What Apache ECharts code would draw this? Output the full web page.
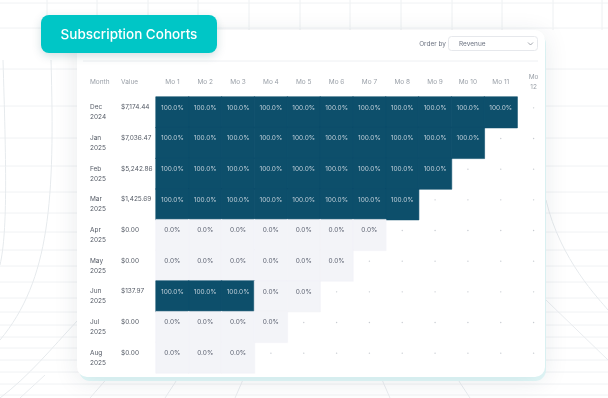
<!DOCTYPE html>
<html>
<head>
<meta charset="utf-8">
<script src="https://cdn.jsdelivr.net/npm/echarts@6/dist/echarts.min.js"></script>
<style>
  html, body { margin: 0; padding: 0; background: #ffffff; }
  #chart { width: 608px; height: 398px; }
</style>
</head>
<body>
<div id="chart"></div>
<script>
// cohort table data
var cohortMonths = ['Dec 2024', 'Jan 2025', 'Feb 2025', 'Mar 2025', 'Apr 2025', 'May 2025', 'Jun 2025', 'Jul 2025', 'Aug 2025'];
var cohortValues = ['$7,174.44', '$7,036.47', '$5,242.86', '$1,425.69', '$0.00', '$0.00', '$137.97', '$0.00', '$0.00'];
var monthCols = ['Mo 1', 'Mo 2', 'Mo 3', 'Mo 4', 'Mo 5', 'Mo 6', 'Mo 7', 'Mo 8', 'Mo 9', 'Mo 10', 'Mo 11', 'Mo 12'];
// retention % per cohort row (only the months that exist)
var retention = [
    [100, 100, 100, 100, 100, 100, 100, 100, 100, 100, 100],
    [100, 100, 100, 100, 100, 100, 100, 100, 100, 100],
    [100, 100, 100, 100, 100, 100, 100, 100, 100],
    [100, 100, 100, 100, 100, 100, 100, 100],
    [0, 0, 0, 0, 0, 0, 0],
    [0, 0, 0, 0, 0, 0],
    [100, 100, 100, 0, 0],
    [0, 0, 0, 0],
    [0, 0, 0]
];

var DARK = '#0d4f6b';
var LIGHT = '#f3f4f8';
var FONT = 'Inter, "Noto Sans", sans-serif';

var cells = [];
var empty = [];
for (var r = 0; r < cohortMonths.length; r++) {
    for (var c = 0; c < monthCols.length; c++) {
        if (c < retention[r].length) {
            var v = retention[r][c];
            var col = v > 0 ? DARK : LIGHT;
            cells.push({
                value: [c, r, v],
                itemStyle: { color: col, borderColor: col },
                label: { color: v > 0 ? '#c3d1db' : '#5b6170' }
            });
        } else {
            empty.push([c, r]);
        }
    }
}

// background decoration
var bg = [];
var vx = [47, 97, 148, 198, 249, 300, 350, 401, 452, 502, 553, 602];
vx.forEach(function (x) {
    bg.push({ type: 'line', z: -20, shape: { x1: x, y1: 0, x2: x, y2: 30 }, style: { stroke: '#edf0f2', lineWidth: 1 } });
});
var hy = [3, 28, 69, 106, 138, 166, 192, 213, 232, 250, 266, 282, 298, 312, 325, 337, 348, 360, 372, 384, 395];
hy.forEach(function (y) {
    bg.push({ type: 'line', z: -20, shape: { x1: 0, y1: y, x2: 608, y2: y }, style: { stroke: '#f0f2f4', lineWidth: 1 } });
});
[[20, 398, 45, 375], [90, 398, 110, 375], [165, 398, 180, 375], [235, 398, 245, 375], [390, 398, 380, 375], [470, 398, 455, 375]].forEach(function (l) {
    bg.push({ type: 'line', z: -20, shape: { x1: l[0], y1: l[1], x2: l[2], y2: l[3] }, style: { stroke: '#e9ecef', lineWidth: 1 } });
});
bg.push({ type: 'bezierCurve', z: -19, shape: { x1: 3, y1: 60, cpx1: 6, cpy1: 160, cpx2: 8, cpy2: 230, x2: 0, y2: 265 }, style: { stroke: '#e6eaed', fill: null, lineWidth: 1 } });
bg.push({ type: 'bezierCurve', z: -19, shape: { x1: 51, y1: 60, cpx1: 55, cpy1: 200, cpx2: 50, cpy2: 280, x2: 0, y2: 340 }, style: { stroke: '#e6eaed', fill: null, lineWidth: 1 } });
bg.push({ type: 'bezierCurve', z: -19, shape: { x1: 78, y1: 320, cpx1: 50, cpy1: 350, cpx2: 30, cpy2: 375, x2: 0, y2: 398 }, style: { stroke: '#e6eaed', fill: null, lineWidth: 1 } });
bg.push({ type: 'bezierCurve', z: -19, shape: { x1: 546, y1: 200, cpx1: 560, cpy1: 260, cpx2: 600, cpy2: 300, x2: 608, y2: 310 }, style: { stroke: '#e6eaed', fill: null, lineWidth: 1 } });
bg.push({ type: 'line', z: -19, shape: { x1: 546, y1: 300, x2: 608, y2: 360 }, style: { stroke: '#e9ecef', lineWidth: 1 } });

var chart = echarts.init(document.getElementById('chart'));
chart.setOption({
    animation: false,
    textStyle: { fontFamily: FONT },
    graphic: bg.concat([
        // card
        { type: 'rect', z: -10, shape: { x: 79, y: 33, width: 467, height: 348, r: 11 }, style: { fill: '#e3fafa' } },
        { type: 'rect', z: -9, shape: { x: 77, y: 30, width: 468, height: 347, r: 10 },
          style: { fill: '#ffffff', shadowBlur: 24, shadowColor: 'rgba(30,50,70,0.10)', shadowOffsetY: 4 } },
        { type: 'line', z: -8, shape: { x1: 83, y1: 61, x2: 538, y2: 61 }, style: { stroke: '#eef0f3', lineWidth: 1 } },
        // order by
        { type: 'text', z: 5, style: { x: 446, y: 44, text: 'Order by', fill: '#6b7280', font: '6.5px ' + FONT, align: 'right', verticalAlign: 'middle' } },
        { type: 'rect', z: 5, shape: { x: 448.5, y: 36.5, width: 89, height: 14, r: 3 }, style: { fill: '#ffffff', stroke: '#e6e8ec', lineWidth: 1 } },
        { type: 'text', z: 6, style: { x: 459, y: 44, text: 'Revenue', fill: '#6b7280', font: '6.5px ' + FONT, verticalAlign: 'middle' } },
        { type: 'polyline', z: 6, shape: { points: [[528, 42.5], [530.5, 45], [533, 42.5]] }, style: { stroke: '#8a8f98', lineWidth: 0.8, fill: null } },
        // column headers for the left columns
        { type: 'text', z: 5, style: { x: 90, y: 82, text: 'Month', fill: '#9aa0a8', font: '6.5px ' + FONT, verticalAlign: 'middle' } },
        { type: 'text', z: 5, style: { x: 121, y: 82, text: 'Value', fill: '#9aa0a8', font: '6.5px ' + FONT, verticalAlign: 'middle' } },
        // badge
        { type: 'rect', z: 20, shape: { x: 41, y: 15, width: 176, height: 38, r: 8 },
          style: { fill: '#00c6c6', shadowBlur: 10, shadowColor: 'rgba(0,80,90,0.18)', shadowOffsetY: 3 } },
        { type: 'text', z: 21, style: { x: 129, y: 34.5, text: 'Subscription Cohorts', fill: '#ffffff', font: '500 13.5px ' + FONT, align: 'center', verticalAlign: 'middle' } }
    ]),
    grid: { left: 156, top: 97, width: 394, height: 276 },
    xAxis: {
        type: 'category',
        position: 'top',
        data: monthCols,
        splitArea: { show: false },
        axisLine: { show: false },
        axisTick: { show: false },
        axisLabel: {
            color: '#9aa0a8', fontSize: 6.5, margin: 15, lineHeight: 10, verticalAlign: 'middle', fontFamily: FONT,
            formatter: function (v, i) { return i === monthCols.length - 1 ? v.replace(' ', '\n') : v; }
        }
    },
    yAxis: [{
        type: 'category',
        inverse: true,
        data: cohortMonths,
        axisLine: { show: false },
        axisTick: { show: false },
        axisLabel: {
            color: '#555b66', fontSize: 6.5, lineHeight: 10, align: 'left', margin: 66, fontFamily: FONT,
            formatter: function (v) { return v.replace(' ', '\n'); }
        }
    }, {
        type: 'category',
        inverse: true,
        position: 'left',
        data: cohortValues,
        axisLine: { show: false },
        axisTick: { show: false },
        axisLabel: {
            color: '#555b66', fontSize: 6.5, lineHeight: 10, align: 'left', margin: 35, fontFamily: FONT,
            formatter: function (v) { return v + '\n '; }
        }
    }],
    series: [{
        type: 'heatmap',
        data: cells,
        itemStyle: { borderWidth: 0.6 },
        label: {
            show: true, fontSize: 6.5, fontFamily: FONT, offset: [0, -4.5],
            formatter: function (p) { return p.value[2].toFixed(1) + '%'; }
        },
        emphasis: { disabled: true }
    }, {
        type: 'scatter',
        data: empty,
        symbol: 'circle',
        symbolSize: 1.4,
        symbolOffset: [0, -4.5],
        itemStyle: { color: '#b9bec5' },
        silent: true
    }]
});
</script>
</body>
</html>
